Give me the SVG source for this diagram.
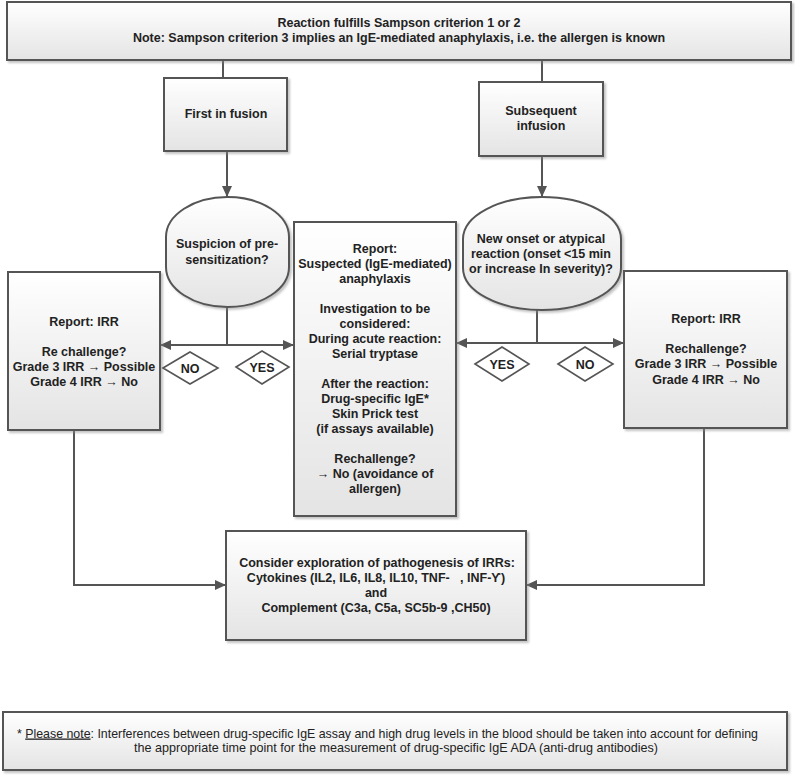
<svg xmlns="http://www.w3.org/2000/svg" width="795" height="775" viewBox="0 0 795 775">
<style>
.box{fill:url(#g);stroke:#555;stroke-width:2;filter:url(#sh)}
.dia{fill:#fff;stroke:#555;stroke-width:1.6}
.t{font-family:"Liberation Sans",Arial,sans-serif;font-size:12.5px;font-weight:bold;fill:#222;text-anchor:middle;white-space:pre}
.f{font-family:"Liberation Sans",Arial,sans-serif;font-size:13px;fill:#222;text-anchor:middle;white-space:pre}
.c{fill:none;stroke:#555;stroke-width:2}
</style>
<defs>
<linearGradient id="g" x1="0" y1="0" x2="0" y2="1">
<stop offset="0" stop-color="#ffffff"/>
<stop offset="1" stop-color="#e4e4e4"/>
</linearGradient>
<filter id="sh" x="-5%" y="-5%" width="115%" height="120%">
<feDropShadow dx="2" dy="2" stdDeviation="1.2" flood-color="#888" flood-opacity="0.5"/>
</filter>
<marker id="ah" markerUnits="userSpaceOnUse" markerWidth="12" markerHeight="10" refX="11" refY="5" orient="auto">
<path d="M0,0 L11,5 L0,10 z" fill="#555"/>
</marker>
</defs>

<g id="connectors">
<line class="c" x1="223" y1="60" x2="223" y2="78"/>
<line class="c" x1="542" y1="60" x2="542" y2="82"/>
<line class="c" x1="227" y1="151" x2="227" y2="197" marker-end="url(#ah)"/>
<line class="c" x1="542" y1="156" x2="542" y2="197" marker-end="url(#ah)"/>
<line class="c" x1="227" y1="307" x2="227" y2="345"/>
<line class="c" x1="227" y1="345" x2="160" y2="345" marker-end="url(#ah)"/>
<line class="c" x1="227" y1="345" x2="294" y2="345" marker-end="url(#ah)"/>
<line class="c" x1="537" y1="310" x2="537" y2="343"/>
<line class="c" x1="537" y1="343" x2="456" y2="343" marker-end="url(#ah)"/>
<line class="c" x1="537" y1="343" x2="624" y2="343" marker-end="url(#ah)"/>
<path class="c" d="M74,430 V585 H226" marker-end="url(#ah)"/>
<path class="c" d="M704,428 V585 H526" marker-end="url(#ah)"/>
</g>

<g id="top">
<rect class="box" x="7" y="2" width="784" height="58"/>
<text class="t" x="399" y="26.5">Reaction fulfills Sampson criterion 1 or 2</text>
<text class="t" x="399" y="41.5">Note: Sampson criterion 3 implies an IgE-mediated anaphylaxis, i.e. the allergen is known</text>
</g>

<g id="first">
<rect class="box" x="164" y="78" width="123" height="73"/>
<text class="t" x="226" y="117.5">First in fusion</text>
</g>

<g id="subsequent">
<rect class="box" x="479" y="82" width="124" height="74"/>
<text class="t" x="541" y="114.5">Subsequent</text>
<text class="t" x="541" y="129.5">infusion</text>
</g>

<g id="suspicion">
<rect class="box" x="166" y="197" width="123" height="110" rx="61.5" ry="40"/>
<text class="t" x="227" y="247.5">Suspicion of pre-</text>
<text class="t" x="227" y="263.5">sensitization?</text>
</g>

<g id="newonset">
<rect class="box" x="463" y="197" width="158" height="113" rx="79" ry="42"/>
<text class="t" x="541" y="242.5">New onset or atypical</text>
<text class="t" x="541" y="257.5">reaction (onset &lt;15 min</text>
<text class="t" x="541" y="272.5">or increase In severity)?</text>
</g>

<g id="irr-left">
<rect class="box" x="8" y="272" width="152" height="158"/>
<text class="t" x="84" y="325.5">Report: IRR</text>
<text class="t" x="84" y="355.5">Re challenge?</text>
<text class="t" x="84" y="370.5">Grade 3 IRR → Possible</text>
<text class="t" x="84" y="385.5">Grade 4 IRR → No</text>
</g>

<g id="anaphylaxis">
<rect class="box" x="294" y="222" width="162" height="294"/>
<text class="t" x="375" y="252.5">Report:</text>
<text class="t" x="375" y="267.5">Suspected (IgE-mediated)</text>
<text class="t" x="375" y="282.5">anaphylaxis</text>
<text class="t" x="375" y="312.5">Investigation to be</text>
<text class="t" x="375" y="327.5">considered:</text>
<text class="t" x="375" y="342.5">During acute reaction:</text>
<text class="t" x="375" y="357.5">Serial tryptase</text>
<text class="t" x="375" y="387.5">After the reaction:</text>
<text class="t" x="375" y="402.5">Drug-specific IgE*</text>
<text class="t" x="375" y="417.5">Skin Prick test</text>
<text class="t" x="375" y="432.5">(if assays available)</text>
<text class="t" x="375" y="462.5">Rechallenge?</text>
<text class="t" x="375" y="477.5">→ No (avoidance of</text>
<text class="t" x="375" y="492.5">allergen)</text>
</g>

<g id="irr-right">
<rect class="box" x="624" y="271" width="163" height="157"/>
<text class="t" x="706" y="322.5">Report: IRR</text>
<text class="t" x="706" y="352.5">Rechallenge?</text>
<text class="t" x="706" y="367.5">Grade 3 IRR → Possible</text>
<text class="t" x="706" y="383.5">Grade 4 IRR → No</text>
</g>

<g id="no-left">
<polygon class="dia" points="163,368 190,352 218,368 190,384"/>
<text class="t" x="190" y="372.5">NO</text>
</g>
<g id="yes-left">
<polygon class="dia" points="236,367 262,351 289,367 262,384"/>
<text class="t" x="262" y="371.5">YES</text>
</g>
<g id="yes-right">
<polygon class="dia" points="475,364 502,347 529,364 502,381"/>
<text class="t" x="502" y="368.5">YES</text>
</g>
<g id="no-right">
<polygon class="dia" points="558,364 585,347 613,364 585,381"/>
<text class="t" x="585" y="368.5">NO</text>
</g>

<g id="pathogenesis">
<rect class="box" x="226" y="531" width="300" height="109"/>
<text class="t" x="377" y="566.5">Consider exploration of pathogenesis of IRRs:</text>
<text class="t" x="376" y="581.5">Cytokines (IL2, IL6, IL8, IL10, TNF-   , INF-ϒ)</text>
<text class="t" x="376" y="596.5">and</text>
<text class="t" x="376" y="611.5">Complement (C3a, C5a, SC5b-9 ,CH50)</text>
</g>

<g id="footnote">
<rect class="box" x="3" y="712" width="784" height="58"/>
<text class="f" x="387.5" y="737.5" textLength="741" lengthAdjust="spacingAndGlyphs">* <tspan text-decoration="underline">Please note</tspan>: Interferences between drug-specific IgE assay and high drug levels in the blood should be taken into account for defining</text>
<text class="f" x="396" y="751.5" textLength="524" lengthAdjust="spacingAndGlyphs">the appropriate time point for the measurement of drug-specific IgE ADA (anti-drug antibodies)</text>
</g>
</svg>
